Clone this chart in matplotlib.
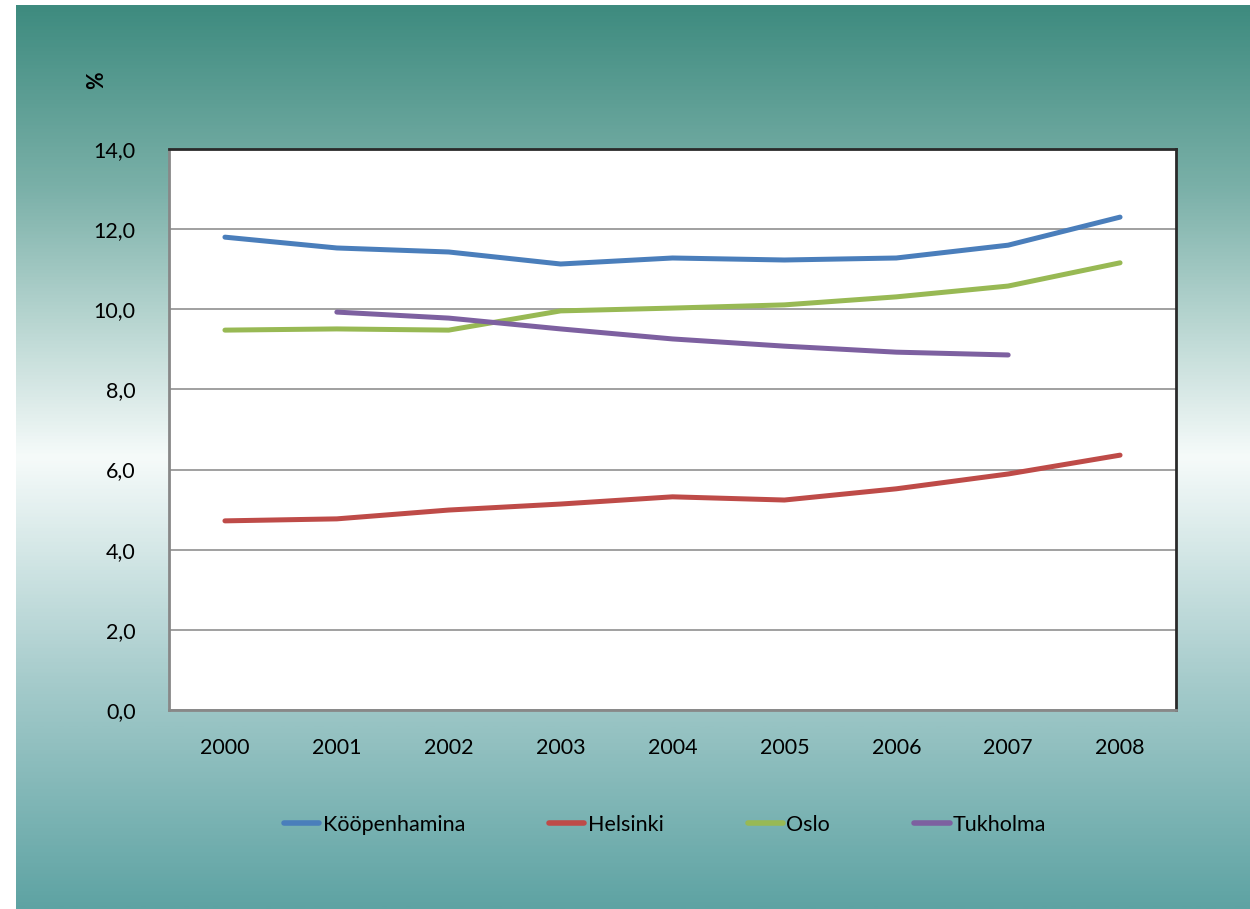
import matplotlib
matplotlib.use("Agg")
import matplotlib.pyplot as plt
import numpy as np
from matplotlib.colors import LinearSegmentedColormap

years = ["2000", "2001", "2002", "2003", "2004", "2005", "2006", "2007", "2008"]
kooepenhamina = [11.80, 11.53, 11.43, 11.13, 11.28, 11.23, 11.28, 11.60, 12.30]
helsinki = [4.72, 4.77, 4.99, 5.14, 5.32, 5.24, 5.52, 5.89, 6.36]
oslo = [9.48, 9.51, 9.48, 9.96, 10.03, 10.11, 10.31, 10.58, 11.16]
tukholma = [None, 9.93, 9.78, 9.51, 9.26, 9.08, 8.93, 8.86, None]
yticks = [0, 2, 4, 6, 8, 10, 12, 14]

series = [
    ("Kööpenhamina", kooepenhamina, "#4a7ebb"),
    ("Helsinki", helsinki, "#be4b48"),
    ("Oslo", oslo, "#98b954"),
    ("Tukholma", tukholma, "#7d60a0"),
]

plt.rcParams['font.family'] = ['Lato', 'DejaVu Sans']

W, H = 1250, 909
fig = plt.figure(figsize=(W / 100, H / 100), dpi=100)
fig.patch.set_facecolor("white")

# gradient background panel
bg = fig.add_axes([16 / W, 0, 1 - 16 / W, 1 - 5 / H], zorder=0)
cmap = LinearSegmentedColormap.from_list(
    "bg",
    [(0.0, "#3e8b7f"), (0.20, "#7ab0a8"), (0.50, "#f6fbfa"),
     (0.75, "#a5cbcb"), (1.0, "#5ea3a3")])
grad = np.linspace(0, 1, 512).reshape(-1, 1)
bg.imshow(grad, aspect="auto", cmap=cmap, extent=[0, 1, 0, 1], origin="upper")
bg.set_axis_off()

# plot area
left, right, top, bottom = 169, 1176, 149, 710
ax = fig.add_axes([left / W, 1 - bottom / H, (right - left) / W, (bottom - top) / H], zorder=1)
ax.set_facecolor("white")

x = np.arange(len(years))
for name, vals, col in series:
    v = np.array([np.nan if a is None else a for a in vals], dtype=float)
    ax.plot(x, v, color=col, lw=3.6, solid_capstyle="round", solid_joinstyle="round",
            label=name, zorder=3)

ax.set_xlim(-0.5, len(years) - 0.5)
ax.set_ylim(0, 14)
ax.set_yticks(yticks)
ax.set_yticklabels([f"{t:.1f}".replace(".", ",") for t in yticks], fontsize=15.5)
ax.set_xticks(x)
ax.set_xticklabels(years, fontsize=15.5)
ax.tick_params(axis="both", length=0, colors="black")
ax.tick_params(axis="y", pad=24)
ax.tick_params(axis="x", pad=20)
ax.yaxis.grid(True, color="#a0a0a0", lw=1.4)
ax.set_axisbelow(True)
for s in ["left", "bottom"]:
    ax.spines[s].set_color("#888888")
    ax.spines[s].set_linewidth(2)
for s in ["top", "right"]:
    ax.spines[s].set_color("#2a2a2a")
    ax.spines[s].set_linewidth(2)

fig.text(97 / W, 1 - 80 / H, "%", rotation=90, fontsize=15.5, fontweight="bold",
         ha="center", va="center")

leg = fig.legend(loc="center", bbox_to_anchor=(665 / W, 1 - 825 / H), ncol=4,
                 frameon=False, fontsize=15.5, handlelength=1.65, handletextpad=0.15,
                 columnspacing=3.9)
for h in leg.get_lines():
    h.set_linewidth(4)
    h.set_solid_capstyle("round")

fig.savefig("out.png", dpi=100)
